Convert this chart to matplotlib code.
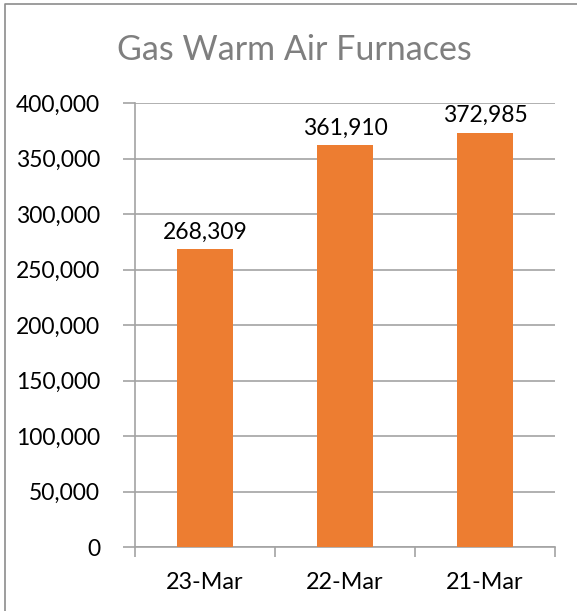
import matplotlib.pyplot as plt
from matplotlib.lines import Line2D
from matplotlib.ticker import FuncFormatter, FixedLocator
import numpy as np

# Data
categories = ['23-Mar', '22-Mar', '21-Mar']
units = [268309, 361910, 372985]

bar_colour = '#ED7D31'
grid_colour = '#A3A3A3'
plt.rcParams['font.family'] = ['Lato', 'DejaVu Sans']

fig = plt.figure(figsize=(5.77, 6.11), dpi=100)
fig.set_facecolor('white')

# Outer chart border (left and top edges only visible)
border_x = [5 / 577, 5 / 577, 1.0]
border_y = [0.0, 1 - 4 / 611, 1 - 4 / 611]
fig.lines.append(Line2D(border_x, border_y, transform=fig.transFigure,
                        color='#8C8C8C', lw=1.2))

ax = fig.add_axes([135 / 577, 64 / 611, 420 / 577, 444 / 611])
x = np.arange(len(categories))
ax.bar(x, units, width=0.4, color=bar_colour, zorder=3)

ax.set_xlim(-0.5, len(categories) - 0.5)
ax.set_ylim(0, 400000)
ax.set_yticks(np.arange(0, 400001, 50000))
ax.yaxis.set_major_formatter(FuncFormatter(lambda v, _: f"{int(v):,}"))
ax.grid(axis='y', color=grid_colour, lw=1.2, zorder=0)

# Category ticks at boundaries, labels centred
ax.set_xticks(x)
ax.set_xticklabels(categories)
ax.xaxis.set_minor_locator(FixedLocator(np.arange(-0.5, len(categories), 1)))
ax.tick_params(axis='x', which='major', length=0, pad=18, labelsize=16.8)
ax.tick_params(axis='x', which='minor', length=7, width=1.2, color=grid_colour, direction='out')
ax.tick_params(axis='y', length=9, width=1.2, color=grid_colour, labelsize=16.5, pad=16)

for side in ['top', 'right']:
    ax.spines[side].set_visible(False)
for side in ['left', 'bottom']:
    ax.spines[side].set_color(grid_colour)
    ax.spines[side].set_linewidth(1.2)

# Data labels
for xi, v in zip(x, units):
    ax.text(xi, v + 6000, f"{v:,}", ha='center', va='bottom', fontsize=16.5, color='black')

fig.text(294 / 577, 1 - 50 / 611, 'Gas Warm Air Furnaces', ha='center', va='center',
         fontsize=24.5, color='#7F7F7F')

plt.savefig('out.png', dpi=100)
